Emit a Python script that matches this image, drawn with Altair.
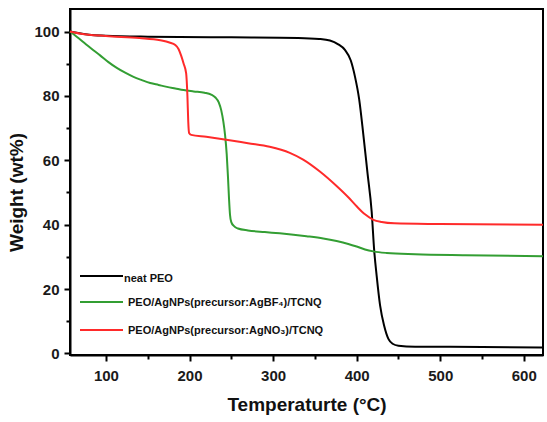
import altair as alt
import pandas as pd

# Series names and colours
names = [
    "neat PEO",
    "PEO/AgNPs(precursor:AgBF\u2084)/TCNQ",
    "PEO/AgNPs(precursor:AgNO\u2083)/TCNQ",
]
colors = ["#000000", "#339e33", "#ff2a2a"]

# TGA curves: temperature (°C) and remaining weight (wt%)
peo_t = [57, 65, 80, 100, 150, 250, 330, 355, 368, 378, 386, 393, 398, 403, 408,
         413, 418, 421, 424, 428, 433, 438, 443, 450, 470, 550, 623]
peo_w = [100, 99.6, 99.0, 98.7, 98.4, 98.2, 98.0, 97.7, 97.2, 96.0, 94.3, 91, 86,
         79, 68, 56, 44, 32, 24, 15, 8.5, 4.5, 3.0, 2.4, 2.1, 2.0, 1.8]

bf4_t = [57, 65, 75, 85, 93, 103, 113, 123, 133, 143, 153, 163, 173, 183, 193, 205,
         218, 226, 231, 235, 238, 240.5, 242.5, 244.5, 246, 247.3, 248.5, 250, 253,
         258, 270, 290, 308, 340, 360, 376, 390, 400, 410, 420, 436, 470, 530, 623]
bf4_w = [100, 98.4, 96.3, 94.2, 92.6, 90.5, 88.7, 87.2, 85.9, 84.9, 84.0, 83.4, 82.8,
         82.3, 81.8, 81.4, 81.0, 80.4, 79.5, 78.0, 75.5, 72, 68, 62, 55, 48, 43, 40.8,
         39.6, 38.8, 38.2, 37.7, 37.3, 36.4, 35.7, 34.9, 34.0, 33.2, 32.3, 31.7, 31.2,
         30.8, 30.5, 30.2]

no3_t = [57, 70, 100, 140, 165, 176, 183, 187, 190, 193, 196, 197.5, 198.5, 199.5,
         202, 220, 244, 270, 296, 320, 336, 356, 376, 390, 400, 410, 420, 430, 445,
         500, 623]
no3_w = [100, 99.3, 98.6, 98.0, 97.3, 96.6, 95.8, 94.5, 92.5, 90, 87, 80, 72, 68.5,
         67.9, 67.3, 66.4, 65.3, 64.2, 62.3, 60.2, 56.5, 52, 48.5, 45.7, 43.2, 41.5,
         40.8, 40.4, 40.2, 40.0]

x_ticks = list(range(100, 601, 50))
y_ticks = list(range(0, 101, 10))

frames = []
for name, ts, ws in zip(names, [peo_t, bf4_t, no3_t], [peo_w, bf4_w, no3_w]):
    frames.append(pd.DataFrame({"series": name, "temp": ts, "weight": ws}))
df = pd.concat(frames, ignore_index=True)

font = "Liberation Sans"

x_enc = alt.X(
    "temp:Q",
    scale=alt.Scale(domain=[57, 623], nice=False, zero=False),
    axis=alt.Axis(
        title="Temperaturte (°C)",
        values=x_ticks,
        labelExpr="datum.value % 100 === 0 ? datum.label : ''",
        tickSize={"condition": {"test": "datum.value % 100 === 0", "value": 6}, "value": 4},
        labelPadding=7,
        titlePadding=12,
        labelOverlap=False,
        labelFlush=False,
    ),
)
y_enc = alt.Y(
    "weight:Q",
    scale=alt.Scale(domain=[-0.5, 107], nice=False, zero=False),
    axis=alt.Axis(
        title="Weight (wt%)",
        values=y_ticks,
        labelExpr="datum.value % 20 === 0 ? datum.label : ''",
        tickSize={"condition": {"test": "datum.value % 20 === 0", "value": 6}, "value": 4},
        labelPadding=5,
        titlePadding=7,
        titleY=183,
        labelOverlap=False,
        labelFlush=False,
    ),
)

lines = alt.Chart(df).mark_line(interpolate="monotone", strokeWidth=2).encode(
    x=x_enc,
    y=y_enc,
    color=alt.Color("series:N", scale=alt.Scale(domain=names, range=colors), legend=None),
    detail="series:N",
    order=alt.Order("temp:Q"),
)

# Hand-built legend in the lower-left corner of the plot
legend_layers = []
row_y = [267, 293, 321]
text_x = [54, 58, 58]
for name, col, yy, tx in zip(names, colors, row_y, text_x):
    row = pd.DataFrame({"label": [name]})
    legend_layers.append(
        alt.Chart(row).mark_rule(color=col, strokeWidth=2).encode(
            x=alt.value(10), x2=alt.value(53), y=alt.value(yy)
        )
    )
    legend_layers.append(
        alt.Chart(row).mark_text(
            align="left", baseline="middle", font=font, fontWeight="bold",
            fontSize=11, color="#111111", dy=3 if tx == 54 else 1,
        ).encode(x=alt.value(tx), y=alt.value(yy), text="label:N")
    )

chart = (
    alt.layer(lines, *legend_layers)
    .properties(
        width=473,
        height=346,
        autosize="none",
        padding={"left": 70, "top": 9, "right": 4, "bottom": 67},
    )
    .configure_view(stroke="#000000", strokeWidth=2)
    .configure_axis(
        grid=False,
        domainColor="#000000",
        domainWidth=2,
        tickColor="#000000",
        tickWidth=2,
        labelFont=font,
        labelFontWeight="bold",
        labelFontSize=15,
        labelColor="#1a1a1a",
        titleFont=font,
        titleFontWeight="bold",
        titleFontSize=19,
        titleColor="#111111",
    )
)

chart.save("out.html", embed_options={"renderer": "svg", "actions": False})
